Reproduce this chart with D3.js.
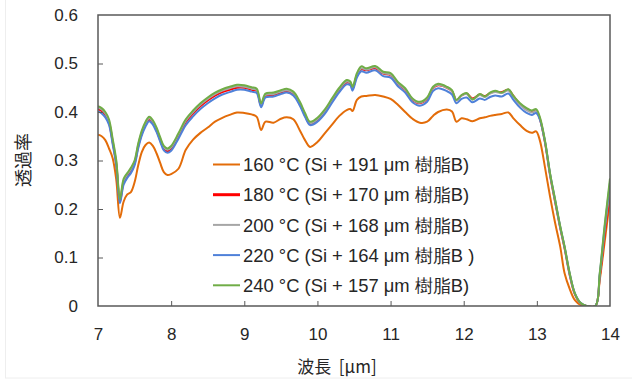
<!DOCTYPE html>
<html>
<head>
<meta charset="utf-8">
<script src="https://cdn.jsdelivr.net/npm/d3@7"></script>
<style>
  html, body { margin: 0; padding: 0; background: #fff; }
  svg { display: block; }
  text { font-family: "Liberation Sans", Arial, sans-serif; fill: #262626; }
  .cjk { font-family: "Noto Sans CJK JP", "Noto Sans", sans-serif; }
</style>
</head>
<body>
<svg id="chart" width="632" height="383"></svg>
<script>
// Wavelength samples [µm]
const wavelength = [
  7.00, 7.05, 7.10, 7.15, 7.20, 7.25, 7.30, 7.35, 7.40, 7.45, 7.50, 7.55, 7.60, 7.65, 7.70,
  7.75, 7.80, 7.85, 7.90, 7.95, 8.00, 8.10, 8.20, 8.30, 8.40, 8.50, 8.60, 8.70, 8.80, 8.90,
  9.00, 9.10, 9.17, 9.23, 9.29, 9.40, 9.50, 9.58, 9.67, 9.76, 9.83, 9.90, 10.00, 10.10, 10.20,
  10.30, 10.40, 10.45, 10.48, 10.54, 10.60, 10.67, 10.79, 10.90, 11.00, 11.10, 11.20, 11.30, 11.40, 11.50,
  11.58, 11.65, 11.77, 11.84, 11.90, 11.97, 12.04, 12.12, 12.22, 12.29, 12.36, 12.43, 12.52, 12.61, 12.68,
  12.77, 12.86, 12.93, 12.99, 13.04, 13.11, 13.18, 13.25, 13.32, 13.38, 13.45, 13.52, 13.60, 13.68, 13.80,
  13.86, 13.93, 14.00
];

// Transmittance per curing temperature
const t160 = [
  0.353, 0.350, 0.342, 0.325, 0.305, 0.260, 0.182, 0.215, 0.230, 0.235, 0.255, 0.290, 0.318, 0.332, 0.337,
  0.330, 0.315, 0.295, 0.276, 0.270, 0.272, 0.283, 0.322, 0.343, 0.357, 0.368, 0.380, 0.388, 0.394, 0.399,
  0.398, 0.395, 0.390, 0.363, 0.380, 0.378, 0.386, 0.389, 0.385, 0.362, 0.342, 0.328, 0.338, 0.356, 0.374,
  0.392, 0.404, 0.406, 0.402, 0.425, 0.432, 0.433, 0.435, 0.432, 0.427, 0.415, 0.400, 0.386, 0.378, 0.380,
  0.392, 0.400, 0.405, 0.401, 0.380, 0.387, 0.385, 0.381, 0.387, 0.389, 0.392, 0.394, 0.396, 0.399, 0.387,
  0.373, 0.361, 0.357, 0.360, 0.342, 0.287, 0.226, 0.171, 0.122, 0.067, 0.035, 0.012, 0.002, 0.000, 0.000,
  0.054, 0.136, 0.219
];
const t180 = [
  0.406, 0.402, 0.394, 0.378, 0.338, 0.292, 0.215, 0.255, 0.268, 0.279, 0.294, 0.329, 0.356, 0.374, 0.384,
  0.377, 0.362, 0.342, 0.324, 0.319, 0.324, 0.350, 0.379, 0.397, 0.412, 0.424, 0.434, 0.441, 0.446, 0.450,
  0.450, 0.446, 0.443, 0.413, 0.433, 0.435, 0.440, 0.443, 0.437, 0.416, 0.393, 0.375, 0.383, 0.400, 0.423,
  0.445, 0.461, 0.458, 0.448, 0.475, 0.488, 0.486, 0.490, 0.479, 0.476, 0.458, 0.446, 0.425, 0.418, 0.427,
  0.449, 0.455, 0.450, 0.443, 0.424, 0.434, 0.438, 0.428, 0.436, 0.433, 0.439, 0.442, 0.441, 0.446, 0.433,
  0.416, 0.405, 0.400, 0.403, 0.386, 0.338, 0.270, 0.214, 0.160, 0.118, 0.063, 0.024, 0.005, 0.000, 0.000,
  0.060, 0.152, 0.232
];
const t200 = [
  0.409, 0.405, 0.397, 0.381, 0.341, 0.296, 0.218, 0.258, 0.271, 0.282, 0.297, 0.332, 0.359, 0.377, 0.387,
  0.380, 0.365, 0.345, 0.327, 0.322, 0.327, 0.353, 0.382, 0.400, 0.415, 0.427, 0.437, 0.444, 0.449, 0.453,
  0.452, 0.448, 0.445, 0.415, 0.435, 0.437, 0.442, 0.445, 0.439, 0.418, 0.395, 0.377, 0.385, 0.402, 0.425,
  0.447, 0.463, 0.460, 0.450, 0.477, 0.490, 0.487, 0.492, 0.480, 0.477, 0.459, 0.447, 0.426, 0.419, 0.428,
  0.450, 0.456, 0.450, 0.443, 0.424, 0.434, 0.437, 0.426, 0.435, 0.431, 0.438, 0.441, 0.439, 0.444, 0.431,
  0.415, 0.404, 0.399, 0.402, 0.387, 0.340, 0.272, 0.216, 0.162, 0.120, 0.065, 0.025, 0.005, 0.000, 0.000,
  0.063, 0.160, 0.245
];
const t220 = [
  0.401, 0.397, 0.389, 0.374, 0.334, 0.290, 0.212, 0.250, 0.264, 0.274, 0.290, 0.325, 0.352, 0.370, 0.381,
  0.374, 0.359, 0.339, 0.321, 0.316, 0.320, 0.345, 0.373, 0.391, 0.406, 0.418, 0.428, 0.436, 0.441, 0.446,
  0.446, 0.442, 0.439, 0.410, 0.430, 0.432, 0.437, 0.440, 0.434, 0.413, 0.390, 0.373, 0.380, 0.396, 0.419,
  0.441, 0.457, 0.455, 0.444, 0.471, 0.484, 0.481, 0.486, 0.474, 0.471, 0.453, 0.440, 0.420, 0.413, 0.421,
  0.443, 0.449, 0.443, 0.436, 0.418, 0.427, 0.430, 0.420, 0.428, 0.425, 0.431, 0.434, 0.432, 0.438, 0.425,
  0.409, 0.398, 0.394, 0.398, 0.385, 0.340, 0.273, 0.218, 0.163, 0.121, 0.066, 0.026, 0.006, 0.000, 0.000,
  0.066, 0.166, 0.255
];
const t240 = [
  0.412, 0.408, 0.400, 0.385, 0.345, 0.300, 0.220, 0.262, 0.274, 0.285, 0.300, 0.335, 0.362, 0.380, 0.390,
  0.383, 0.368, 0.348, 0.330, 0.325, 0.330, 0.356, 0.385, 0.403, 0.418, 0.430, 0.440, 0.447, 0.452, 0.456,
  0.455, 0.451, 0.448, 0.418, 0.438, 0.440, 0.445, 0.448, 0.442, 0.421, 0.398, 0.380, 0.388, 0.405, 0.428,
  0.450, 0.466, 0.463, 0.452, 0.480, 0.494, 0.490, 0.495, 0.483, 0.480, 0.462, 0.449, 0.428, 0.421, 0.430,
  0.452, 0.458, 0.452, 0.445, 0.425, 0.435, 0.439, 0.426, 0.437, 0.432, 0.440, 0.444, 0.440, 0.447, 0.433,
  0.418, 0.408, 0.403, 0.406, 0.390, 0.342, 0.274, 0.219, 0.164, 0.122, 0.067, 0.026, 0.006, 0.000, 0.000,
  0.068, 0.171, 0.263
];

const labels = [
  "160 \u00B0C (Si + 191 \u03BCm 樹脂B)",
  "180 \u00B0C (Si + 170 \u03BCm 樹脂B)",
  "200 \u00B0C (Si + 168 \u03BCm 樹脂B)",
  "220 \u00B0C (Si + 164 \u03BCm 樹脂B )",
  "240 \u00B0C (Si + 157 \u03BCm 樹脂B)"
];
const colors = ["#E36C09", "#FF0000", "#A6A6A6", "#4F81D9", "#70AD47"];
const seriesValues = [t160, t180, t200, t220, t240];

const xTicks = [7, 8, 9, 10, 11, 12, 13, 14];
const yTicks = [0, 0.1, 0.2, 0.3, 0.4, 0.5, 0.6];

const svg = d3.select("#chart");
const plot = { left: 98, right: 610, top: 15, bottom: 306 };

const x = d3.scaleLinear().domain([7, 14]).range([plot.left, plot.right]);
const y = d3.scaleLinear().domain([0, 0.6]).range([plot.bottom, plot.top]);

// faint outer border of the figure
svg.append("rect")
  .attr("x", 5.5).attr("y", -1).attr("width", 640).attr("height", 379)
  .attr("fill", "none").attr("stroke", "#eeeeee").attr("stroke-width", 1);

// data lines, drawn first series at the back
const line = d3.line()
  .x((d, i) => x(wavelength[i]))
  .y(d => y(d))
  .curve(d3.curveCatmullRom.alpha(0.5));

svg.append("clipPath").attr("id", "plotclip")
  .append("rect").attr("x", plot.left).attr("y", plot.top - 2)
  .attr("width", plot.right - plot.left).attr("height", plot.bottom - plot.top + 2);

const g = svg.append("g").attr("clip-path", "url(#plotclip)");
seriesValues.forEach((vals, k) => {
  g.append("path")
    .datum(vals)
    .attr("d", line)
    .attr("fill", "none")
    .attr("stroke", colors[k])
    .attr("stroke-width", 2)
    .attr("stroke-linejoin", "round");
});

// axes with inward ticks
const axisColor = "#595959";
const yAxis = d3.axisLeft(y).tickValues(yTicks).tickSizeInner(-5).tickSizeOuter(0)
  .tickPadding(20).tickFormat(d => d === 0 ? "0" : d3.format(".1f")(d));
const xAxis = d3.axisBottom(x).tickValues(xTicks).tickSizeInner(-5).tickSizeOuter(0)
  .tickPadding(22).tickFormat(d3.format("d"));

const gy = svg.append("g").attr("transform", `translate(${plot.left},0)`).call(yAxis);
const gx = svg.append("g").attr("transform", `translate(0,${plot.bottom})`).call(xAxis);
[gx, gy].forEach(a => {
  a.select(".domain").remove();
  a.selectAll(".tick line").attr("stroke", axisColor).attr("stroke-width", 1);
  a.selectAll(".tick text").style("font-size", "17px").attr("fill", "#262626")
    .style("font-family", "'Liberation Sans', Arial, sans-serif");
});
// hide the end ticks that sit on the frame
gy.selectAll(".tick line").filter(d => d === 0 || d === 0.6).remove();
gx.selectAll(".tick line").filter(d => d === 7 || d === 14).remove();

// plot frame
svg.append("rect")
  .attr("x", plot.left).attr("y", plot.top)
  .attr("width", plot.right - plot.left).attr("height", plot.bottom - plot.top)
  .attr("fill", "none").attr("stroke", axisColor).attr("stroke-width", 1.5);

// axis titles
svg.append("text").attr("class", "cjk")
  .attr("x", 337).attr("y", 373).attr("text-anchor", "middle")
  .style("font-size", "17px").style("white-space", "pre")
  .text("波長\u00A0 [\u03BCm]");
svg.append("text").attr("class", "cjk")
  .attr("transform", "translate(30,160) rotate(-90)").attr("text-anchor", "middle")
  .style("font-size", "18px").attr("fill", "#404040")
  .text("透過率");

// legend
const legend = svg.append("g");
labels.forEach((lab, k) => {
  const yy = 164.5 + k * 30.2;
  legend.append("line")
    .attr("x1", 213).attr("x2", 240).attr("y1", yy).attr("y2", yy)
    .attr("stroke", colors[k]).attr("stroke-width", k === 1 ? 3 : 2);
  legend.append("text")
    .attr("x", 243).attr("y", yy).attr("dy", "0.36em")
    .style("font-size", "18.4px")
    .text(lab);
});
</script>
</body>
</html>
